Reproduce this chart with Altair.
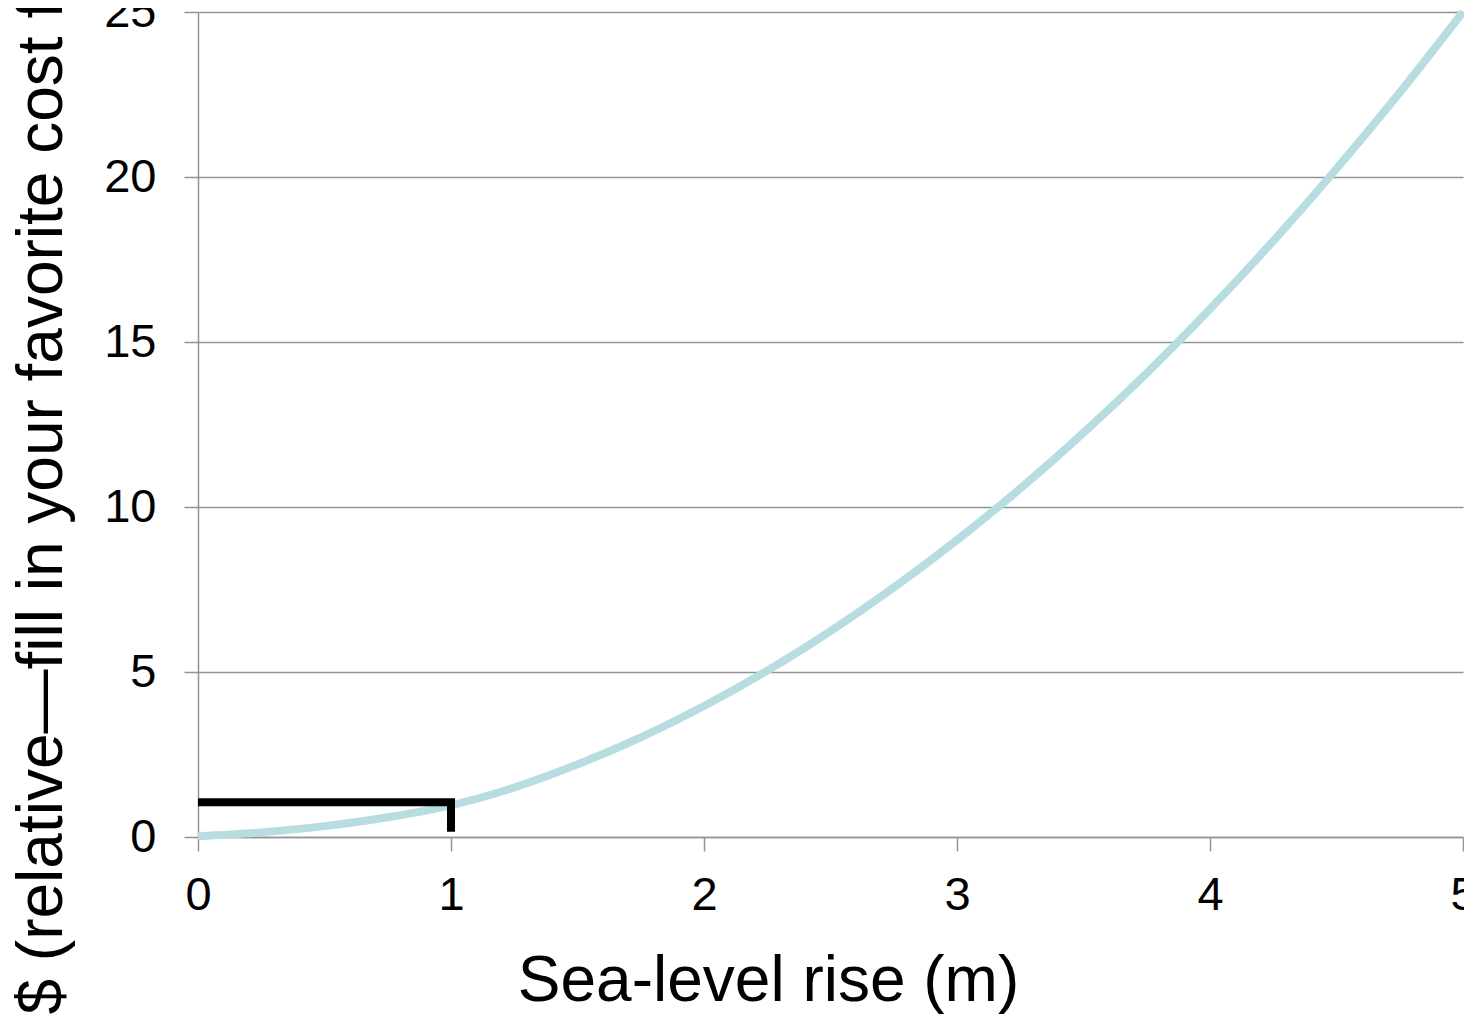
import altair as alt
import pandas as pd

# Curve values
rise_m = [0, 0.25, 0.5, 0.75, 1, 1.25, 1.5, 1.75, 2, 2.25, 2.5, 2.75,
          3, 3.25, 3.5, 3.75, 4, 4.25, 4.5, 4.75, 5]
cost = [0.02, 0.14, 0.33, 0.6, 0.96, 1.5, 2.2, 3.02, 3.97, 5.04, 6.24, 7.56,
        9.0, 10.56, 12.25, 14.06, 16.0, 18.06, 20.25, 22.56, 25.0]

# Black bracket marking the 1 m point
bracket_x = [0, 1, 1]
bracket_y = [1.05, 1.05, 0.16]
bracket_order = [0, 1, 2]

x_ticks = [0, 1, 2, 3, 4, 5]
y_ticks = [0, 5, 10, 15, 20, 25]

x_title = "Sea-level rise (m)"
y_title = "$ (relative\u2014fill in your favorite cost function)"

FONT = "Liberation Sans"
GRAY = "#939393"

curve_df = pd.DataFrame({"x": rise_m, "y": cost})
bracket_df = pd.DataFrame({"x": bracket_x, "y": bracket_y, "o": bracket_order})

x_scale = alt.Scale(domain=[0, 5], nice=False, zero=True)
y_scale = alt.Scale(domain=[0, 25], nice=False, zero=True)

x_axis = alt.Axis(
    values=x_ticks, format="d", title=x_title, grid=False,
    domainColor=GRAY, domainWidth=1.5, tickColor=GRAY, tickWidth=1.5, tickSize=14,
    labelFont=FONT, labelFontSize=47, labelColor="black", labelPadding=21,
    labelFlush=False, labelOverlap=False,
    titleFont=FONT, titleFontSize=64, titleFontWeight="normal", titleColor="black",
    titleX=570, titleY=163, titleAlign="center", titleBaseline="alphabetic",
)
y_axis = alt.Axis(
    values=y_ticks, format="d", title=y_title, grid=True,
    gridColor=GRAY, gridWidth=1.5,
    domainColor=GRAY, domainWidth=1.5, tickColor=GRAY, tickWidth=1.5, tickSize=14,
    labelFont=FONT, labelFontSize=47, labelColor="black", labelPadding=28,
    labelFlush=False, labelOverlap=False,
    titleFont=FONT, titleFontSize=64, titleFontWeight="normal", titleColor="black",
    titleAngle=270, titleX=-137, titleY=1002, titleAlign="left", titleBaseline="alphabetic",
)

curve = alt.Chart(curve_df).mark_line(
    color="#b8dde0", strokeWidth=8, interpolate="monotone"
).encode(
    x=alt.X("x:Q", scale=x_scale, axis=x_axis),
    y=alt.Y("y:Q", scale=y_scale, axis=y_axis),
)

bracket = alt.Chart(bracket_df).mark_line(
    color="black", strokeWidth=8, strokeJoin="miter", strokeCap="butt"
).encode(
    x=alt.X("x:Q", scale=x_scale),
    y=alt.Y("y:Q", scale=y_scale),
    order="o:Q",
)

chart = alt.layer(curve, bracket).properties(
    width=1265,
    height=825,
    autosize=alt.AutoSizeParams(type="none"),
    padding={"left": 190, "top": 4, "right": 1, "bottom": 177},
    background="white",
).configure_view(stroke=None)

chart.save("out.html", embed_options={"renderer": "svg", "actions": False})
